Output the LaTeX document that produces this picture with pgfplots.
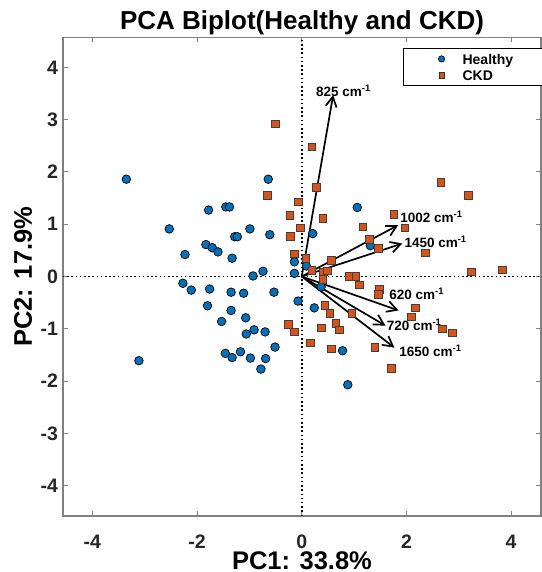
\documentclass[border=0pt]{standalone}
\usepackage{fontspec}
\setmainfont{Liberation Sans}
\usepackage{pgfplots}
\usepackage{pgfplotstable}
\pgfplotsset{compat=1.18}
\usetikzlibrary{arrows.meta}
\definecolor{mblue}{RGB}{0,114,189}
\definecolor{morange}{RGB}{217,83,25}
\pgfplotsset{mylegimg/.style={legend image code/.code={\path[draw=none,fill=none] (-38pt,-5pt) rectangle (21pt,5pt); \draw[#1] plot coordinates {(0pt,0pt)};}}}

\pgfplotstableread{
x y
-3.35 1.86
-0.64 1.86
-1.78 1.27
-1.45 1.33
-1.38 1.33
-2.53 0.91
-0.99 0.91
-0.61 0.80
-1.28 0.76
-1.23 0.76
-1.83 0.61
-1.71 0.55
-1.60 0.47
-2.23 0.42
-1.33 0.35
-0.14 0.28
-0.74 0.10
-0.93 0.01
-0.14 0.06
0.09 0.20
-2.27 -0.13
-2.11 -0.26
-1.76 -0.24
-1.35 -0.30
-1.11 -0.32
-0.53 -0.30
-0.07 -0.47
-1.80 -0.56
-1.35 -0.65
-1.07 -0.79
-1.53 -0.86
-0.91 -1.02
-1.06 -1.10
-0.70 -1.06
-0.51 -1.35
-3.11 -1.61
-1.46 -1.47
-1.33 -1.55
-1.17 -1.44
-0.98 -1.56
-0.69 -1.57
-0.78 -1.77
1.06 1.32
0.21 0.82
1.31 0.59
0.37 -0.20
0.24 -0.60
0.78 -1.42
0.88 -2.07
}\healthy

\pgfplotstableread{
x y
-0.50 2.92
0.19 2.48
0.28 1.70
-0.66 1.55
-0.06 1.43
-0.23 1.17
-0.03 0.93
-0.22 0.77
-0.14 0.43
0.08 0.35
0.40 1.11
1.17 0.95
1.76 1.19
1.97 0.93
2.66 1.80
3.18 1.55
1.29 0.71
1.46 0.54
2.36 0.45
0.56 0.31
0.41 0.09
0.49 0.11
0.19 0.12
3.24 0.09
3.83 0.13
0.91 0.00
1.03 0.00
0.40 -0.05
1.10 -0.16
1.48 -0.25
1.46 -0.34
0.44 -0.55
0.54 -0.70
0.96 -0.70
2.17 -0.60
2.09 -0.77
0.65 -0.90
0.72 -1.02
0.38 -0.98
-0.26 -0.92
-0.14 -1.06
2.68 -1.00
2.88 -1.08
0.16 -1.27
0.56 -1.38
1.40 -1.35
1.71 -1.76
}\ckd

\pgfplotstableread{
x y u v
0 0 0.60 3.47
0 0 1.84 0.98
0 0 1.92 0.63
0 0 1.85 -0.65
0 0 1.60 -0.94
0 0 1.77 -1.36
}\loadings

\begin{document}
\begin{tikzpicture}
\begin{axis}[
  at={(0,0)}, anchor=south west,
  scale only axis, width=478pt, height=478.5pt,
  xmin=-4.56, xmax=4.57, ymin=-4.58, ymax=4.57,
  xtick={-4,-2,0,2,4}, ytick={-4,-3,-2,-1,0,1,2,3,4},
  tick align=inside, major tick length=5pt,
  axis line style={black!50, line width=1.1pt},
  tick style={black!50, line width=1pt},
  /pgf/number format/assume math mode=true,
  tick label style={font=\fontsize{19.5}{20}\selectfont\bfseries, text=black!85},
  xticklabel style={anchor=base, yshift=-32pt, inner sep=0pt},
  yticklabel style={xshift=-1.5pt},
  legend cell align=left,
  legend style={at={(1,1)}, anchor=north east, xshift=6pt, yshift=-10.5pt,
    draw=black, line width=0.8pt, fill=white,
    font=\fontsize{14}{16}\selectfont\bfseries,
    inner xsep=0pt, inner ysep=3pt, row sep=1.2pt, column sep=0pt,
    nodes={inner xsep=0pt, inner ysep=0.3pt}},
]
\addlegendimage{only marks, mark=*, mark size=3.2pt,
  mark options={fill=mblue, draw=black, line width=0.6pt}, mylegimg}
\addlegendentry{\rule[-3pt]{0pt}{16pt}\makebox[84pt][l]{Healthy}}
\addlegendimage{only marks, mark=square*, mark size=2.6pt,
  mark options={fill=morange, draw=black!80, line width=0.6pt}, mylegimg}
\addlegendentry{\rule[-3pt]{0pt}{16pt}\makebox[84pt][l]{CKD}}

\addplot[only marks, mark=*, mark size=4.3pt,
  mark options={fill=mblue, draw=black, line width=0.7pt}, forget plot]
  table[x=x, y=y] {\healthy};
\addplot[only marks, mark=square*, mark size=3.8pt,
  mark options={fill=morange, draw=black!75, line width=0.7pt}, forget plot]
  table[x=x, y=y] {\ckd};

\addplot[black, line width=1.8pt, dash pattern=on 1.5pt off 2.7pt, forget plot]
  coordinates {(-4.56,0) (4.57,0)};
\addplot[black, line width=1.8pt, dash pattern=on 1.5pt off 2.7pt, forget plot]
  coordinates {(0,-4.58) (0,4.57)};

\addplot[black, line width=1.7pt, forget plot,
  quiver={u=\thisrow{u}, v=\thisrow{v}},
  -{Straight Barb[length=10pt, width=11pt]}]
  table[x=x, y=y] {\loadings};

\begin{scope}[every node/.style={font=\fontsize{13.5}{15}\selectfont\bfseries, inner sep=0pt, anchor=base west}]
\node at (axis cs:0.27,3.44) {825 cm\textsuperscript{-1}};
\node at (axis cs:1.88,1.03) {1002 cm\textsuperscript{-1}};
\node at (axis cs:1.96,0.55) {1450 cm\textsuperscript{-1}};
\node at (axis cs:1.67,-0.44) {620 cm\textsuperscript{-1}};
\node at (axis cs:1.62,-1.04) {720 cm\textsuperscript{-1}};
\node at (axis cs:1.86,-1.53) {1650 cm\textsuperscript{-1}};
\end{scope}
\end{axis}
\node[anchor=base, font=\fontsize{26}{28}\selectfont\bfseries] at (239pt,486.5pt) {PCA Biplot(Healthy and CKD)};
\node[anchor=base, inner sep=0pt, text depth=0pt, font=\fontsize{25.5}{28}\selectfont\bfseries] at (239pt,-53pt) {PC1: 33.8\%};
\node[anchor=base, rotate=90, font=\fontsize{25.5}{28}\selectfont\bfseries] at (-31pt,239.25pt) {PC2: 17.9\%};
\pgfresetboundingbox
\path[use as bounding box] (-63pt,-56pt) rectangle (478pt,516pt);
\end{tikzpicture}
\end{document}
